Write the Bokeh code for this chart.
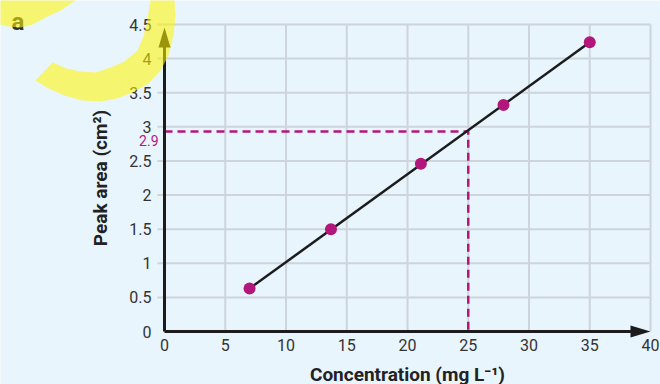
from bokeh.plotting import figure
from bokeh.models import FixedTicker, NumeralTickFormatter, Label, PolyAnnotation, Range1d
from bokeh.embed import file_html
from bokeh.resources import INLINE

# ---- data ----
conc = [7.0, 13.7, 21.1, 27.9, 35.0]          # mg L^-1
area = [0.63, 1.50, 2.46, 3.32, 4.24]         # cm^2
fit_x = [7.0, 35.0]
fit_y = [0.63, 4.24]
read_x = [0.0, 25.0, 25.0]
read_y = [2.93, 2.93, 0.0]
read_text = "2.9"
x_ticks = [0, 5, 10, 15, 20, 25, 30, 35, 40]
y_ticks = [0, 0.5, 1, 1.5, 2, 2.5, 3, 3.5, 4, 4.5]
x_title = "Concentration (mg L\u207b\u00b9)"
y_title = "Peak area (cm\u00b2)"
panel_letter = "a"

# ---- styling ----
W, H = 660, 384
L, R, T, B = 164, 10, 24, 53      # pixel margins around the axes box
BG = "#e9f5fd"
GRID = "#cdd4db"
AX = "#1c1c1c"
MAG = "#b3177c"
YEL = "#fff500"
FONT = "Roboto"

X0, X1 = x_ticks[0], x_ticks[-1]
Y0, Y1 = y_ticks[0], y_ticks[-1]
sx = (W - L - R) / (X1 - X0)
sy = (H - T - B) / (Y1 - Y0)


def px2data(px, py):
    return (px - L) / sx + X0, (H - B - py) / sy + Y0


p = figure(width=W, height=H,
           x_range=Range1d(X0 - L / sx, X1 + R / sx),
           y_range=Range1d(Y0 - B / sy, Y1 + T / sy),
           output_backend="svg", toolbar_location=None,
           min_border=0, min_border_left=0, min_border_right=0,
           min_border_top=0, min_border_bottom=0,
           background_fill_color=BG, border_fill_color=BG, outline_line_color=None)

p.grid.visible = False

# axes drawn at the data origin
p.xaxis.fixed_location = Y0
p.yaxis.fixed_location = X0
p.xaxis.bounds = (X0, X1)
p.yaxis.bounds = (Y0, Y1)
p.xaxis.ticker = FixedTicker(ticks=x_ticks)
p.yaxis.ticker = FixedTicker(ticks=y_ticks)
p.yaxis.formatter = NumeralTickFormatter(format="0.[0]")
p.axis.axis_line_color = None
p.axis.minor_tick_line_color = None
p.axis.major_tick_line_color = None
p.axis.major_tick_in = 0
p.xaxis.major_tick_out = 0
p.yaxis.major_tick_out = 7
p.axis.major_label_text_font = FONT
p.axis.major_label_text_font_size = "16px"
p.axis.major_label_text_color = "#333333"
p.xaxis.major_label_standoff = 7
p.yaxis.major_label_standoff = 6
p.xaxis.axis_label = x_title
p.yaxis.axis_label = y_title
p.axis.axis_label_text_font = FONT
p.axis.axis_label_text_font_size = "19px"
p.axis.axis_label_text_font_style = "bold"
p.axis.axis_label_text_color = "#222222"
p.xaxis.axis_label_standoff = 9
p.yaxis.axis_label_standoff = 14

# grid lines (horizontal ones poke out left of the axis like ticks)
hy = y_ticks[1:]
p.segment(x0=[X0 - 7 / sx] * len(hy), y0=hy, x1=[X1] * len(hy), y1=hy,
          line_color=GRID, line_width=2)
vx = x_ticks[1:]
p.segment(x0=vx, y0=[Y0] * len(vx), x1=vx, y1=[Y1] * len(vx),
          line_color=GRID, line_width=2)

# reading lines
p.line(read_x, read_y, line_color=MAG, line_width=2.5, line_dash="8 5")
# calibration line and points
p.line(fit_x, fit_y, line_color=AX, line_width=2.5)
p.scatter(conc, area, size=12, fill_color=MAG, line_color=None)

# axis lines with arrow heads
ytip = Y1 - 3 / sy
p.line([X0, X1 - 10 / sx], [Y0, Y0], line_color=AX, line_width=3)
p.line([X0, X0], [Y0, ytip - 10 / sy], line_color=AX, line_width=3)
p.patch([X1, X1 - 20 / sx, X1 - 20 / sx], [Y0, Y0 + 6 / sy, Y0 - 6 / sy],
        fill_color=AX, line_color=None)
p.patch([X0, X0 - 6 / sx, X0 + 6 / sx], [ytip, ytip - 20 / sy, ytip - 20 / sy],
        fill_color=AX, line_color=None)

# reading value label
p.add_layout(Label(x=X0 - 6 / sx, y=read_y[0] - 9 / sy, text=read_text,
                   text_align="right", text_baseline="middle",
                   text_color=MAG, text_font=FONT, text_font_size="14px"))

# panel letter
lx, ly = px2data(11, 21)
p.add_layout(Label(x=lx, y=ly, text=panel_letter, text_align="left",
                   text_baseline="alphabetic", text_color="#333333",
                   text_font=FONT, text_font_size="24px", text_font_style="bold"))

# decorative yellow swoosh (page ornament, pixel outline)
swoosh_px = [(-5, -100), (-5, 23), (8, 26), (20, 27), (32, 24), (45, 17), (60, 10),
             (75, 0), (88, -15), (105, -22), (125, -20), (140, -12), (150, 0),
             (148, 12), (146, 25), (143, 36), (137, 50), (124, 61), (110, 67),
             (95, 72), (80, 71), (66, 68), (52, 62), (35, 80), (48, 88), (64, 95),
             (82, 100), (100, 101), (116, 98), (132, 92), (148, 83), (160, 70),
             (168, 55), (173, 35), (175, 15), (174, 0), (168, -20), (155, -45),
             (130, -70), (90, -100)]
sw = [px2data(a, b) for a, b in swoosh_px]
p.add_layout(PolyAnnotation(xs=[q[0] for q in sw], ys=[q[1] for q in sw],
                            fill_color=YEL, fill_alpha=0.56, line_color=None,
                            level="overlay"))

open("out.html", "w").write(file_html(p, INLINE))
